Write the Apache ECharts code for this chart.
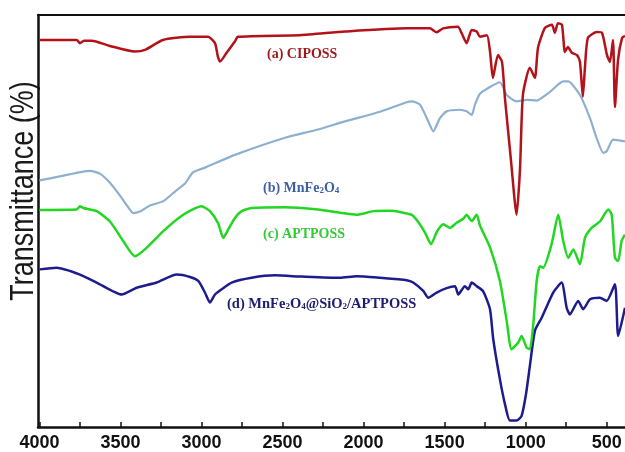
<!DOCTYPE html>
<html>
<head>
<meta charset="utf-8">
<script src="https://cdn.jsdelivr.net/npm/echarts@6/dist/echarts.min.js"></script>
<style>html,body{margin:0;padding:0;background:#fff}#c{width:625px;height:452px}</style>
</head>
<body>
<div id="c"></div>
<script>
// Wavenumber axis ticks (cm-1)
const xTickLabels = [4000, 3500, 3000, 2500, 2000, 1500, 1000, 500];
const xMinorTicks = [4000, 3750, 3500, 3250, 3000, 2750, 2500, 2250, 2000, 1750, 1500, 1250, 1000, 750, 500];

// (a) CIPOSS
const cipossWn = [4000, 3770, 3750, 3725, 3678, 3565, 3411, 3349, 3238, 3071, 2960, 2917, 2899, 2886, 2845, 2794, 2775, 2393, 2115, 1734, 1591, 1549, 1510, 1418, 1395, 1364, 1333, 1302, 1282, 1239, 1220, 1202, 1171, 1146, 1128, 1091, 1056, 1035, 1017, 974, 943, 924, 881, 838, 820, 801, 776, 758, 739, 715, 683, 665, 647, 634, 616, 560, 529, 498, 480, 461, 449, 430, 405, 387];
const cipossT = [97, 97, 96.2, 96.8, 96.8, 95.5, 94.1, 94.5, 97, 97.8, 97.8, 96.2, 92.8, 91.6, 93.8, 96.6, 97.8, 98.2, 99.1, 99.9, 99.9, 98.9, 99.9, 100.3, 98.7, 96.2, 99.5, 99.1, 97.8, 98.2, 94.1, 87.5, 93.2, 91.5, 82.5, 67, 53.2, 64.5, 83.2, 90, 87.5, 95, 100, 100.8, 98.8, 101.2, 100.8, 94, 95.2, 93.8, 93.2, 91.5, 82.8, 90.2, 97.5, 99, 98.8, 93.2, 91.5, 97, 80.2, 92, 97.5, 98];

// (b) MnFe2O4
const mnfeWn = [4000, 3874, 3688, 3627, 3565, 3503, 3460, 3421, 3380, 3318, 3236, 3164, 3102, 3053, 2979, 2794, 2485, 2288, 2115, 1899, 1734, 1703, 1652, 1601, 1570, 1529, 1488, 1406, 1364, 1333, 1313, 1282, 1220, 1159, 1117, 1056, 994, 932, 850, 768, 737, 665, 603, 562, 521, 500, 460, 387];
const mnfeT = [61.8, 62.8, 64.2, 63.5, 61.2, 58, 55.5, 53.6, 54, 55.5, 56.6, 59, 61, 63.8, 65, 68.2, 72.5, 74.5, 76.6, 79, 81.4, 81.6, 80.8, 76.6, 74.1, 77.4, 79.1, 79.5, 79.1, 78.2, 80.8, 83.5, 85.2, 86.4, 83.2, 81.6, 82, 81.8, 84, 86.6, 86.6, 83.2, 77.4, 72.4, 68.7, 69.1, 72, 71.6];

// (c) APTPOSS
const aptWn = [4000, 3770, 3750, 3730, 3647, 3565, 3483, 3411, 3339, 3236, 3113, 3000, 2948, 2897, 2866, 2835, 2794, 2752, 2691, 2485, 2280, 2146, 2043, 1940, 1837, 1704, 1665, 1621, 1584, 1547, 1508, 1467, 1426, 1385, 1364, 1333, 1302, 1282, 1220, 1159, 1117, 1087, 1046, 1025, 994, 974, 953, 932, 912, 892, 840, 799, 768, 737, 706, 665, 634, 593, 542, 490, 469, 449, 429, 408, 387];
const aptT = [54.4, 54.5, 55.3, 54.9, 54.1, 51.5, 46.6, 42.8, 44.9, 49.1, 53.2, 55.3, 54.1, 51, 47.4, 49.5, 52.4, 54.1, 54.9, 55.1, 54.5, 53.7, 53.2, 54.1, 54.2, 53.2, 51.5, 48.7, 45.8, 49, 50.8, 49.9, 51.2, 52.2, 53.2, 51.6, 53.2, 50.5, 45, 36.6, 26.6, 19.5, 21.2, 22.8, 19.9, 19.5, 25.8, 36.6, 40.3, 39.9, 45.8, 53.2, 46.6, 42.4, 44.5, 40.8, 47.4, 49.9, 51.5, 54.5, 53.2, 42.4, 41.6, 46.6, 48.2];

// (d) MnFe2O4@SiO2/APTPOSS
const compWn = [4000, 3894, 3750, 3647, 3493, 3400, 3277, 3153, 3071, 3020, 2979, 2948, 2917, 2876, 2814, 2691, 2547, 2382, 2146, 2043, 1899, 1734, 1694, 1632, 1601, 1549, 1488, 1436, 1416, 1375, 1354, 1333, 1302, 1262, 1220, 1200, 1159, 1128, 1097, 1056, 1025, 998, 974, 943, 901, 830, 778, 747, 727, 676, 645, 603, 542, 500, 449, 429, 387];
const compT = [39.5, 39.9, 38.2, 36.2, 33.2, 34.9, 36.2, 38.2, 37.6, 36.6, 33.7, 31.2, 33.2, 34.5, 36.2, 37.4, 38, 37.7, 37.4, 37.8, 37.4, 36.8, 36.2, 34.1, 32.4, 33.7, 34.8, 35.3, 33.2, 35.3, 34.5, 36.2, 35.3, 34, 29.5, 22, 12, 5.8, 1.6, 1.6, 2.8, 8.2, 15.3, 24.1, 27.4, 33.7, 36.2, 29.9, 28.2, 31.6, 29.5, 32, 32.4, 31.6, 35.8, 22.8, 29.9];

const zip = (a, b) => a.map((v, i) => [v, b[i]]);

const chart = echarts.init(document.getElementById('c'), null, {renderer: 'canvas'});
const serifBold = {fontFamily: '"Liberation Serif", "Times New Roman", serif', fontWeight: 'bold'};
const subRich = (color) => ({
  s: {fontSize: 9, fontFamily: '"Liberation Serif", serif', fontWeight: 'bold', fill: color, verticalAlign: 'bottom', lineHeight: 9}
});

chart.setOption({
  animation: false,
  backgroundColor: '#ffffff',
  grid: {left: 38, right: 0, top: 15, bottom: 24, containLabel: false},
  xAxis: [{
    type: 'value', inverse: true, min: 387, max: 4009,
    axisLine: {show: true, onZero: false, lineStyle: {color: '#111', width: 2.5}},
    axisTick: {show: true, inside: true, length: 5, customValues: xMinorTicks, lineStyle: {color: '#111', width: 1.5}},
    axisLabel: {show: true, customValues: xTickLabels, margin: 7, color: '#111',
      formatter: (v) => String(v),
      fontFamily: '"Liberation Sans", Arial, sans-serif', fontWeight: 'bold', fontSize: 18},
    splitLine: {show: false}
  }, {
    type: 'value', inverse: true, min: 387, max: 4009, position: 'top',
    axisLine: {show: true, onZero: false, lineStyle: {color: '#111', width: 2}},
    axisTick: {show: false}, axisLabel: {show: false}, splitLine: {show: false}
  }],
  yAxis: {
    type: 'value', min: 0, max: 103.25,
    axisLine: {show: true, onZero: false, lineStyle: {color: '#111', width: 2.5}},
    axisTick: {show: false}, axisLabel: {show: false}, splitLine: {show: false}
  },
  series: [
    {name: 'MnFe2O4', type: 'line', data: zip(mnfeWn, mnfeT), showSymbol: false, smooth: 0.2,
      lineStyle: {color: '#8eb0d0', width: 2.2}},
    {name: 'MnFe2O4@SiO2/APTPOSS', type: 'line', data: zip(compWn, compT), showSymbol: false, smooth: 0.2,
      lineStyle: {color: '#1c1c8c', width: 2.5}},
    {name: 'APTPOSS', type: 'line', data: zip(aptWn, aptT), showSymbol: false, smooth: 0.2,
      lineStyle: {color: '#22d622', width: 2.5}},
    {name: 'CIPOSS', type: 'line', data: zip(cipossWn, cipossT), showSymbol: false, smooth: 0.2,
      lineStyle: {color: '#b3121a', width: 2.5}}
  ],
  graphic: [
    {type: 'text', x: 24, y: 191, rotation: Math.PI / 2, scaleY: 1.25,
      style: {text: 'Transmittance (%)', fontSize: 27, fontFamily: '"Liberation Sans", Arial, sans-serif',
        fill: '#1a1a1a', align: 'center', verticalAlign: 'middle'}},
    {type: 'text', x: 267, y: 54,
      style: Object.assign({text: '(a) CIPOSS', fontSize: 14, fill: '#9e1a1a', align: 'left', verticalAlign: 'middle'}, serifBold)},
    {type: 'text', x: 263, y: 188,
      style: Object.assign({text: '(b) MnFe{s|2}O{s|4}', fontSize: 14, fill: '#3d5fa3', align: 'left', verticalAlign: 'middle',
        rich: subRich('#3d5fa3')}, serifBold)},
    {type: 'text', x: 263, y: 234,
      style: Object.assign({text: '(c) APTPOSS', fontSize: 14, fill: '#35c935', align: 'left', verticalAlign: 'middle'}, serifBold)},
    {type: 'text', x: 227, y: 304,
      style: Object.assign({text: '(d) MnFe{s|2}O{s|4}@SiO{s|2}/APTPOSS', fontSize: 14.5, fill: '#1d1d70', align: 'left', verticalAlign: 'middle',
        rich: subRich('#1d1d70')}, serifBold)}
  ]
});
</script>
</body>
</html>
